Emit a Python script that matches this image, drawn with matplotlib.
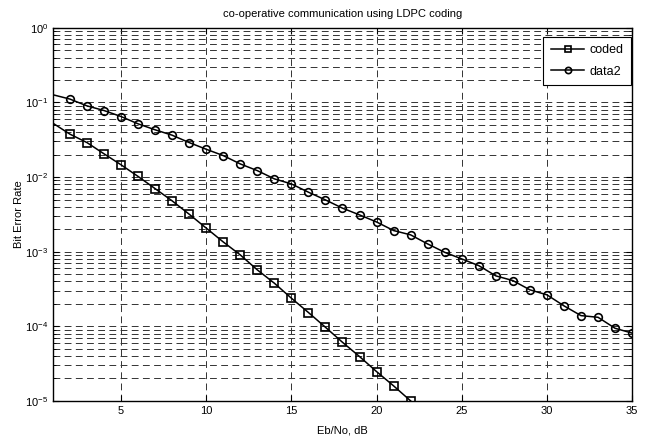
import numpy as np
import matplotlib.pyplot as plt
from matplotlib.ticker import LogLocator, FixedLocator, NullFormatter
from matplotlib.lines import Line2D

plt.rcParams['font.family'] = ['Liberation Sans', 'DejaVu Sans']
plt.rcParams['mathtext.fontset'] = 'custom'
plt.rcParams['mathtext.rm'] = 'Liberation Sans'
plt.rcParams['mathtext.it'] = 'Liberation Sans'
plt.rcParams['font.size'] = 8

# Eb/No points (dB); x=0 lies just outside the visible range
ebno_coded = [0] + list(range(2, 23))
ber_coded = [0.074, 0.0376, 0.029, 0.0205, 0.0146, 0.0102, 0.0070, 0.0048,
             0.00318, 0.00207, 0.00135, 0.000905, 0.00057, 0.000378, 0.000238,
             0.000153, 9.7e-5, 6.1e-5, 3.93e-5, 2.47e-5, 1.59e-5, 1.0e-5]

ebno_data2 = [0] + list(range(2, 36))
ber_data2 = [0.145, 0.111, 0.090, 0.078, 0.0648, 0.0517, 0.043, 0.0364, 0.029,
             0.0236, 0.0194, 0.0150, 0.0122, 0.00946, 0.0081, 0.00627, 0.00494,
             0.00383, 0.00311, 0.0025, 0.00192, 0.00168, 0.00127, 0.00098, 0.0008,
             0.00065, 0.000474, 0.00041, 0.000308, 0.000264, 0.000188, 0.000139,
             0.000132, 9.4e-5, 8.1e-5]

xticks = [5, 10, 15, 20, 25, 30, 35]

fig = plt.figure(figsize=(6.45, 4.42), dpi=100)
ax = fig.add_axes([0.082, 0.093, 0.898, 0.844])

ax.semilogy(ebno_coded, ber_coded, 'k-', marker='s', markersize=5.5,
            markerfacecolor='none', markeredgewidth=1.2, linewidth=1.1, label='coded')
ax.semilogy(ebno_data2, ber_data2, 'k-', marker='o', markersize=5.5,
            markerfacecolor='none', markeredgewidth=1.2, linewidth=1.1, label='data2')

ax.set_xlim(1, 35)
ax.set_ylim(1e-5, 1)
ax.xaxis.set_major_locator(FixedLocator(xticks))
ax.yaxis.set_major_locator(LogLocator(base=10, numticks=10))
ax.yaxis.set_minor_locator(LogLocator(base=10, subs=np.arange(2, 10), numticks=20))
ax.yaxis.set_minor_formatter(NullFormatter())

ax.grid(True, which='major', axis='both', color='#333333', linestyle=(0, (7, 4.5)), linewidth=0.7)
ax.grid(True, which='minor', axis='y', color='#333333', linestyle=(0, (7, 4.5)), linewidth=0.7)

ax.tick_params(which='both', direction='in', top=True, right=True, labelsize=8)
ax.tick_params(which='major', length=4)
ax.tick_params(which='minor', length=2)
for s in ax.spines.values():
    s.set_linewidth(1.0)

ax.set_xlabel('Eb/No, dB', labelpad=7)
ax.set_ylabel('Bit Error Rate', labelpad=1)
ax.set_title('co-operative communication using LDPC coding', fontsize=8, pad=8)

handles = [Line2D([], [], color='k', linewidth=1.1, marker='s', markersize=4.5,
                  markerfacecolor='none', markeredgewidth=1.2),
           Line2D([], [], color='k', linewidth=1.1, marker='o', markersize=4.5,
                  markerfacecolor='none', markeredgewidth=1.2)]
leg = ax.legend(handles, ['coded', 'data2'], loc='upper right', fancybox=False,
                bbox_to_anchor=(0.998, 0.976), borderaxespad=0,
                framealpha=1, edgecolor='k', handlelength=2.7,
                labelspacing=0.75, handletextpad=0.4, borderpad=0.6, fontsize=9)
leg.get_frame().set_linewidth(0.8)

fig.savefig('out.png', dpi=100)
